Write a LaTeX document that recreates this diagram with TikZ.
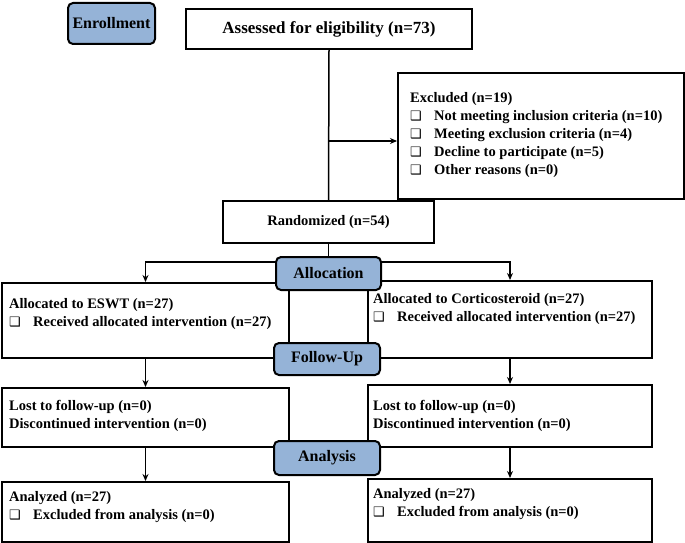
\documentclass[tikz,border=0pt]{standalone}
\usepackage{fontspec}
\setmainfont{Liberation Serif}
\newfontfamily\dingfont{DejaVu Sans}
\usetikzlibrary{positioning,arrows.meta}

\definecolor{stageblue}{RGB}{149,179,215}
\newcommand{\chk}{{\dingfont\fontsize{13}{13}\selectfont\char"2751}}
\newcommand{\checkitem}[1]{\makebox[24pt][l]{\chk}#1}

\tikzset{
    box/.style={draw, line width=2pt, anchor=north west, inner sep=0pt},
    stage/.style={draw, line width=2pt, fill=stageblue, rounded corners=5pt,
        font=\fontsize{16}{16}\selectfont\bfseries, inner sep=0pt},
    boxtext/.style={anchor=north west, align=left, inner sep=0pt,
        font=\fontsize{14.5}{18}\selectfont\bfseries},
    arr/.style={-{Stealth[length=7pt,width=6pt]}, line width=1.5pt},
    link/.style={line width=1.5pt}
}

\begin{document}
\begin{tikzpicture}[x=1pt,y=-1pt]
    \useasboundingbox (0,0) rectangle (685,543);

    % boxes
    \node[box, minimum width=286pt, minimum height=40pt] (assess) at (185,8) {};
    \node[font=\fontsize{17}{17}\selectfont\bfseries] at (assess) {Assessed for eligibility (n=73)};
    \node[box, minimum width=286pt, minimum height=126pt] (excl) at (397,72) {};
    \node[boxtext] (excl-txt) at (410,92) {Excluded (n=19)\\
        \checkitem{Not meeting inclusion criteria (n=10)}\\
        \checkitem{Meeting exclusion criteria (n=4)}\\
        \checkitem{Decline to participate (n=5)}\\
        \checkitem{Other reasons (n=0)}};
    \node[box, minimum width=211pt, minimum height=42pt] (rand) at (222,200) {};
    \node[font=\fontsize{14.5}{14.5}\selectfont\bfseries] at (rand) {Randomized (n=54)};

    \node[box, minimum width=287pt, minimum height=75pt] (eswt) at (1,282) {};
    \node[boxtext] (eswt-txt) at (9,298) {Allocated to ESWT (n=27)\\
        \checkitem{Received allocated intervention (n=27)}};
    \node[box, minimum width=284pt, minimum height=77pt] (cort) at (367,280) {};
    \node[boxtext] (cort-txt) at (373,293) {Allocated to Corticosteroid (n=27)\\
        \checkitem{Received allocated intervention (n=27)}};

    \node[box, minimum width=287pt, minimum height=59pt] (lostL) at (1,387) {};
    \node[boxtext] (lostL-txt) at (9,400) {Lost to follow-up (n=0)\\Discontinued intervention (n=0)};
    \node[box, minimum width=284pt, minimum height=62pt] (lostR) at (367,384) {};
    \node[boxtext] (lostR-txt) at (373,400) {Lost to follow-up (n=0)\\Discontinued intervention (n=0)};

    \node[box, minimum width=287pt, minimum height=60pt] (anaL) at (1,481) {};
    \node[boxtext] (anaL-txt) at (9,491) {Analyzed (n=27)\\
        \checkitem{Excluded from analysis (n=0)}};
    \node[box, minimum width=284pt, minimum height=63pt] (anaR) at (367,478) {};
    \node[boxtext] (anaR-txt) at (373,488) {Analyzed (n=27)\\
        \checkitem{Excluded from analysis (n=0)}};

    % stages
    \node[stage, minimum width=87pt, minimum height=41pt] (enrol) at (111.5,23.5) {Enrollment};
    \node[stage, minimum width=105pt, minimum height=33pt] (alloc) at (328.5,273.5) {Allocation};
    \node[stage, minimum width=106pt, minimum height=32pt] (follow) at (327,359) {Follow-Up};
    \node[stage, minimum width=106pt, minimum height=34pt] (analysis) at (327,458) {Analysis};

    % connectors
    \draw[link] (assess.south) -- (rand.north);
    \draw[arr] (assess.south |- 0,141) -- (excl.west |- 0,141);
    \draw[link] (rand.south) -- (alloc.north);
    \draw[arr] ([yshift=-6pt]alloc.north west) -| (eswt.north);
    \draw[arr] ([yshift=-6pt]alloc.north east) -| (cort.north);
    \draw[arr] (eswt.south) -- (lostL.north);
    \draw[arr] (cort.south) -- (lostR.north);
    \draw[arr] (lostL.south) -- (anaL.north);
    \draw[arr] (lostR.south) -- (anaR.north);
\end{tikzpicture}
\end{document}
